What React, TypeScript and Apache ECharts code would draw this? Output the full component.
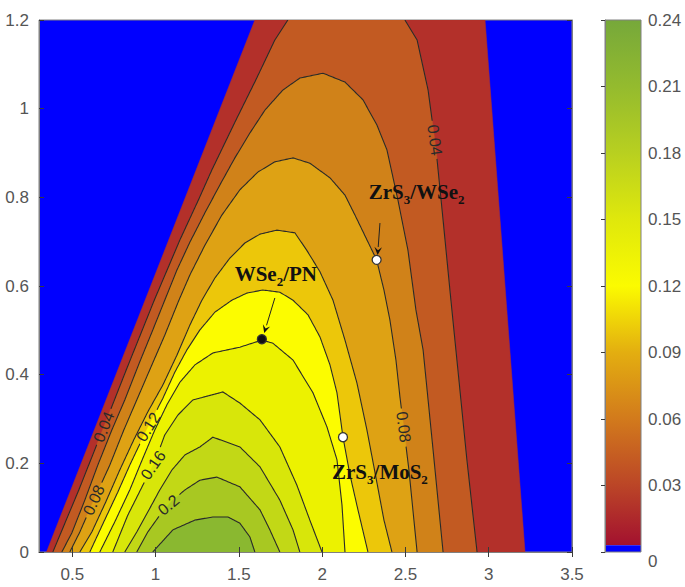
import React, { useEffect, useRef } from "react";
import * as echarts from "echarts";

// ---------- axis / colorbar ticks ----------
const X_TICKS = [0.5, 1, 1.5, 2, 2.5, 3, 3.5];
const X_MIN = 0.3;
const X_MAX = 3.5;
const Y_MIN = 0;
const Y_MAX = 1.2;
const Y_STEP = 0.2;
const CBAR_MIN = 0;
const CBAR_MAX = 0.24;
const CBAR_STEP = 0.03;
const CBAR_ZERO_BAND = 0.003;

// ---------- contour geometry (x, y) ----------
const domainBoundary = [[0.345, 0], [1.596, 1.2], [2.978, 1.2], [3.218, 0]];

const contour04Left = [[0.383, 0], [0.539, 0.14], [0.689, 0.282], [0.824, 0.411], [0.992, 0.568], [1.146, 0.704], [1.257, 0.794], [1.338, 0.862], [1.482, 0.974], [1.602, 1.065], [1.716, 1.155], [1.794, 1.2]];
const contour04Right = [[2.497, 1.2], [2.57, 1.155], [2.636, 1.042], [2.684, 0.907], [2.726, 0.749], [2.767, 0.591], [2.815, 0.411], [2.869, 0.208], [2.93, 0]];
const contour06 = [[0.437, 0], [0.497, 0.043], [0.575, 0.117], [0.653, 0.196], [0.737, 0.275], [0.815, 0.343], [0.905, 0.429], [0.978, 0.496], [1.055, 0.568], [1.128, 0.636], [1.206, 0.699], [1.296, 0.765], [1.386, 0.828], [1.476, 0.889], [1.566, 0.945], [1.657, 0.997], [1.764, 1.042], [1.866, 1.069], [2.005, 1.08], [2.137, 1.06], [2.245, 1.02], [2.329, 0.963], [2.389, 0.907], [2.455, 0.794], [2.515, 0.681], [2.563, 0.546], [2.606, 0.456], [2.666, 0.23], [2.726, 0]];
const contour08 = [[0.485, 0], [0.545, 0.045], [0.629, 0.117], [0.725, 0.196], [0.809, 0.275], [0.887, 0.343], [0.965, 0.411], [1.055, 0.489], [1.14, 0.568], [1.206, 0.625], [1.296, 0.692], [1.398, 0.76], [1.506, 0.817], [1.614, 0.857], [1.716, 0.88], [1.825, 0.889], [1.926, 0.877], [2.047, 0.844], [2.137, 0.805], [2.197, 0.76], [2.269, 0.704], [2.327, 0.659], [2.371, 0.591], [2.407, 0.523], [2.443, 0.433], [2.467, 0.35], [2.521, 0.185], [2.57, 0]];
const contour10 = [[0.545, 0], [0.617, 0.045], [0.701, 0.113], [0.785, 0.185], [0.869, 0.253], [0.953, 0.316], [1.044, 0.377], [1.128, 0.444], [1.206, 0.512], [1.278, 0.568], [1.356, 0.618], [1.446, 0.663], [1.536, 0.697], [1.627, 0.717], [1.728, 0.726], [1.836, 0.72], [1.907, 0.681], [1.987, 0.632], [2.065, 0.568], [2.137, 0.478], [2.209, 0.381], [2.269, 0.275], [2.329, 0.156], [2.371, 0.072], [2.419, 0]];
const contour12 = [[0.605, 0], [0.689, 0.068], [0.773, 0.135], [0.845, 0.196], [0.917, 0.253], [0.977, 0.298], [1.044, 0.347], [1.116, 0.406], [1.188, 0.456], [1.266, 0.501], [1.356, 0.541], [1.458, 0.568], [1.548, 0.584], [1.644, 0.591], [1.746, 0.586], [1.825, 0.568], [1.915, 0.535], [1.987, 0.485], [2.047, 0.422], [2.089, 0.359], [2.125, 0.259], [2.167, 0.174], [2.215, 0.095], [2.275, 0]];
const contour14 = [[0.665, 0], [0.755, 0.068], [0.845, 0.14], [0.924, 0.212], [0.995, 0.275], [1.068, 0.332], [1.146, 0.383], [1.236, 0.422], [1.344, 0.449], [1.506, 0.462], [1.638, 0.478], [1.704, 0.471], [1.825, 0.433], [1.945, 0.359], [2.029, 0.282], [2.089, 0.208], [2.119, 0.106], [2.137, 0]];
const contour16 = [[0.743, 0], [0.833, 0.083], [0.924, 0.151], [0.995, 0.203], [1.055, 0.264], [1.134, 0.309], [1.224, 0.343], [1.404, 0.361], [1.506, 0.336], [1.627, 0.298], [1.746, 0.237], [1.848, 0.151], [1.926, 0.072], [1.999, 0]];
const contour18 = [[0.815, 0], [0.887, 0.045], [0.953, 0.09], [1.025, 0.14], [1.098, 0.185], [1.176, 0.219], [1.266, 0.237], [1.344, 0.259], [1.506, 0.237], [1.627, 0.192], [1.746, 0.117], [1.825, 0.05], [1.866, 0]];
const contour20 = [[0.887, 0], [0.953, 0.045], [1.025, 0.083], [1.098, 0.115], [1.176, 0.14], [1.266, 0.162], [1.368, 0.169], [1.506, 0.147], [1.627, 0.095], [1.686, 0.05], [1.746, 0]];
const contour22 = [[0.983, 0], [1.104, 0.05], [1.236, 0.072], [1.344, 0.079], [1.434, 0.079], [1.506, 0.065], [1.566, 0.034], [1.596, 0]];

// fill colour of each band (lower level of the band)
const BAND_LEVELS = [0.02, 0.04, 0.06, 0.08, 0.1, 0.12, 0.14, 0.16, 0.18, 0.2, 0.22];
const BAND_COLORS = ["#b3302a", "#c25a22", "#d08219", "#dea214", "#ecc70a", "#fcfc00", "#ecf200", "#d8e60a", "#c2d816", "#a8c822", "#8ab830"];

// colormap for the colorbar
const CMAP_VALUES = [0.003, 0.03, 0.06, 0.09, 0.12, 0.15, 0.18, 0.21, 0.24];
const CMAP_COLORS = ["#a3112f", "#bb4527", "#d27a1c", "#e3ae10", "#fbfb00", "#dfe80c", "#b8d020", "#94bb2e", "#76a83a"];

// contour labels (line index refers to CONTOUR_LINES)
const CLABEL_TEXTS = ["0.04", "0.08", "0.12", "0.16", "0.2", "0.04", "0.08"];
const CLABEL_POS = [[0.689, 0.282], [0.629, 0.117], [0.956, 0.282], [0.985, 0.196], [1.077, 0.106], [2.676, 0.929], [2.489, 0.282]];
const CLABEL_ANGLES = [68, 66, 58, 55, 40, -82, -83];
const CLABEL_LINE = [0, 3, 5, 7, 9, 1, 3];

// materials
const MAT_BASE = [["ZrS", "3", "/WSe", "2"], ["WSe", "2", "/PN", ""], ["ZrS", "3", "/MoS", "2"]];
const MAT_POINTS = [[2.327, 0.659], [1.638, 0.48], [2.125, 0.259]];
const MAT_FILLED = [false, true, false];
const MAT_LABEL_POS = [[2.567, 0.812], [1.722, 0.627], [2.347, 0.18]];
const ARROWS = [
  [2.347, 0.742, 2.333, 0.67],
  [1.716, 0.573, 1.652, 0.494],
];

const FILL_REGIONS = [
  domainBoundary,
  contour04Left.concat(contour04Right),
  contour06, contour08, contour10, contour12, contour14, contour16, contour18, contour20, contour22,
];
const CONTOUR_LINES = [contour04Left, contour04Right, contour06, contour08, contour10, contour12, contour14, contour16, contour18, contour20, contour22];

const SANS = "'Liberation Sans', Arial, Helvetica, sans-serif";
const SERIF = "'Liberation Serif', 'Times New Roman', serif";
const AXIS_GRAY = "#808080";
const LABEL_GRAY = "#555555";
const CLABEL_FONT = 16;

function labelRadius(t: string) {
  let w = 0;
  for (const ch of t) w += ch === "." ? 0.278 : 0.556;
  return (w * CLABEL_FONT) / 2 + 3;
}

function buildOption(): any {
  const yfmt = (v: number) => String(+v.toFixed(2));
  const cstops = CMAP_VALUES.map((v, i) => ({
    offset: (v - CMAP_VALUES[0]) / (CMAP_VALUES[CMAP_VALUES.length - 1] - CMAP_VALUES[0]),
    color: CMAP_COLORS[i],
  }));

  const richFor = (parts: string[]) => {
    let s = "";
    for (let i = 0; i < parts.length; i++) {
      if (!parts[i]) continue;
      s += i % 2 === 0 ? `{n|${parts[i]}}` : `{s|${parts[i]}}`;
    }
    return s;
  };

  return {
    animation: false,
    backgroundColor: "#ffffff",
    grid: [
      { left: 39, top: 20, width: 533, height: 532, show: true, backgroundColor: "#0000ff", borderColor: AXIS_GRAY, borderWidth: 1 },
      { left: 605, top: 20, width: 36, height: 532, show: false },
    ],
    xAxis: [
      {
        type: "value", gridIndex: 0, min: X_MIN, max: X_MAX, position: "bottom", z: 10,
        axisLine: { show: true, lineStyle: { color: AXIS_GRAY, width: 1 } },
        axisTick: { show: true, inside: true, length: 5, customValues: X_TICKS, lineStyle: { color: "#3a3a3a" } },
        axisLabel: { customValues: X_TICKS, color: LABEL_GRAY, fontSize: 17, fontFamily: SANS, margin: 14, formatter: (v: number) => String(v) },
        splitLine: { show: false },
      },
      {
        type: "value", gridIndex: 0, min: X_MIN, max: X_MAX, position: "top", z: 10,
        axisLine: { show: true, lineStyle: { color: AXIS_GRAY, width: 1 } },
        axisTick: { show: true, inside: true, length: 5, customValues: X_TICKS, lineStyle: { color: "#3a3a3a" } },
        axisLabel: { show: false, customValues: X_TICKS },
        splitLine: { show: false },
      },
      { type: "value", gridIndex: 1, min: 0, max: 1, show: false },
    ],
    yAxis: [
      {
        type: "value", gridIndex: 0, min: Y_MIN, max: Y_MAX, interval: Y_STEP, position: "left", z: 10,
        axisLine: { show: true, lineStyle: { color: AXIS_GRAY, width: 1 } },
        axisTick: { show: true, inside: true, length: 5, lineStyle: { color: "#3a3a3a" } },
        axisLabel: { color: LABEL_GRAY, fontSize: 17, fontFamily: SANS, margin: 10, formatter: yfmt },
        splitLine: { show: false },
      },
      {
        type: "value", gridIndex: 0, min: Y_MIN, max: Y_MAX, interval: Y_STEP, position: "right", z: 10,
        axisLine: { show: true, lineStyle: { color: AXIS_GRAY, width: 1 } },
        axisTick: { show: true, inside: true, length: 5, lineStyle: { color: "#3a3a3a" } },
        axisLabel: { show: false },
        splitLine: { show: false },
      },
      {
        type: "value", gridIndex: 1, min: CBAR_MIN, max: CBAR_MAX, interval: CBAR_STEP, position: "right", z: 10,
        axisLine: { show: true, lineStyle: { color: AXIS_GRAY, width: 1 } },
        axisTick: { show: true, inside: true, length: 4, lineStyle: { color: "#3a3a3a" } },
        axisLabel: {
          color: LABEL_GRAY, fontSize: 17, fontFamily: SANS, margin: 7,
          formatter: (v: number) => (v === 0 ? "{z|0}" : String(+v.toFixed(2))),
          rich: { z: { color: LABEL_GRAY, fontSize: 17, fontFamily: SANS, padding: [18, 0, 0, 0] } },
        },
        splitLine: { show: false },
      },
    ],
    series: [
      // filled contour bands
      {
        type: "custom", xAxisIndex: 0, yAxisIndex: 0, z: 2, clip: true, silent: true,
        data: FILL_REGIONS.map(() => [1, 0.5]),
        renderItem: (params: any, api: any) => {
          const pts = FILL_REGIONS[params.dataIndex].map((p) => api.coord(p));
          return { type: "polygon", shape: { points: pts }, style: { fill: BAND_COLORS[params.dataIndex], stroke: BAND_COLORS[params.dataIndex], lineWidth: 0.5 } };
        },
      },
      // contour lines (broken where a label sits)
      {
        type: "custom", xAxisIndex: 0, yAxisIndex: 0, z: 3, clip: true, silent: true,
        data: CONTOUR_LINES.map(() => [1, 0.5]),
        renderItem: (params: any, api: any) => {
          const li = params.dataIndex;
          const raw = CONTOUR_LINES[li].map((p) => api.coord(p));
          const dense: number[][] = [];
          for (let k = 0; k < raw.length - 1; k++) {
            const a = raw[k], b = raw[k + 1];
            const d = Math.hypot(b[0] - a[0], b[1] - a[1]);
            const n = Math.max(1, Math.ceil(d / 1.5));
            for (let j = 0; j < n; j++) dense.push([a[0] + ((b[0] - a[0]) * j) / n, a[1] + ((b[1] - a[1]) * j) / n]);
          }
          dense.push(raw[raw.length - 1]);
          const holes: { c: number[]; r: number }[] = [];
          CLABEL_LINE.forEach((l, i) => {
            if (l === li) holes.push({ c: api.coord(CLABEL_POS[i]), r: labelRadius(CLABEL_TEXTS[i]) });
          });
          const segs: number[][][] = [];
          let cur: number[][] = [];
          for (const p of dense) {
            const inside = holes.some((h) => Math.hypot(p[0] - h.c[0], p[1] - h.c[1]) < h.r);
            if (inside) {
              if (cur.length > 1) segs.push(cur);
              cur = [];
            } else cur.push(p);
          }
          if (cur.length > 1) segs.push(cur);
          return {
            type: "group",
            children: segs.map((s) => ({ type: "polyline", shape: { points: s }, style: { stroke: "#2a2a2a", lineWidth: 1.1, fill: "none" } })),
          };
        },
      },
      // contour labels
      {
        type: "custom", xAxisIndex: 0, yAxisIndex: 0, z: 4, silent: true,
        data: CLABEL_TEXTS.map(() => [1, 0.5]),
        renderItem: (params: any, api: any) => {
          const i = params.dataIndex;
          const p = api.coord(CLABEL_POS[i]);
          return {
            type: "text", x: p[0], y: p[1], rotation: (CLABEL_ANGLES[i] * Math.PI) / 180,
            style: { text: CLABEL_TEXTS[i], align: "center", verticalAlign: "middle", fill: "#2a2a2a", fontSize: CLABEL_FONT, fontFamily: SANS },
          };
        },
      },
      // arrows
      {
        type: "custom", xAxisIndex: 0, yAxisIndex: 0, z: 5, silent: true,
        data: ARROWS.map(() => [1, 0.5]),
        renderItem: (params: any, api: any) => {
          const a = ARROWS[params.dataIndex];
          const s = api.coord([a[0], a[1]]);
          const e = api.coord([a[2], a[3]]);
          const dx = e[0] - s[0];
          const dy = e[1] - s[1];
          const L = Math.sqrt(dx * dx + dy * dy);
          const ux = dx / L, uy = dy / L;
          const hl = 8, hw = 3.8;
          const bx = e[0] - ux * hl, by = e[1] - uy * hl;
          return {
            type: "group",
            children: [
              { type: "line", shape: { x1: s[0], y1: s[1], x2: bx, y2: by }, style: { stroke: "#222", lineWidth: 1 } },
              {
                type: "polygon",
                shape: { points: [[e[0], e[1]], [bx - uy * hw, by + ux * hw], [e[0] - ux * hl * 0.6, e[1] - uy * hl * 0.6], [bx + uy * hw, by - ux * hw]] },
                style: { fill: "#111" },
              },
            ],
          };
        },
      },
      // material labels
      {
        type: "custom", xAxisIndex: 0, yAxisIndex: 0, z: 6, silent: true,
        data: MAT_BASE.map(() => [1, 0.5]),
        renderItem: (params: any, api: any) => {
          const i = params.dataIndex;
          const p = api.coord(MAT_LABEL_POS[i]);
          return {
            type: "text", x: p[0], y: p[1],
            style: {
              text: richFor(MAT_BASE[i]), align: "center", verticalAlign: "middle",
              rich: {
                n: { fill: "#111", color: "#111", fontSize: 21, fontWeight: "bold", fontFamily: SERIF, lineHeight: 28, verticalAlign: "middle" },
                s: { fill: "#111", color: "#111", fontSize: 13, fontWeight: "bold", fontFamily: SERIF, lineHeight: 14, verticalAlign: "bottom" },
              },
            },
          };
        },
      },
      // material points
      {
        type: "scatter", xAxisIndex: 0, yAxisIndex: 0, z: 7, silent: true,
        symbol: "circle", symbolSize: 9,
        data: MAT_POINTS.map((p, i) => ({
          value: p,
          itemStyle: { color: MAT_FILLED[i] ? "#111111" : "#ffffff", borderColor: "#333333", borderWidth: 1.3, opacity: 1 },
        })),
      },
      // colorbar
      {
        type: "custom", xAxisIndex: 2, yAxisIndex: 2, z: 2, silent: true,
        data: [[0.5, 0.1]],
        renderItem: (_params: any, api: any) => {
          const b0 = api.coord([0, CBAR_MIN]);
          const bz = api.coord([1, CBAR_ZERO_BAND]);
          const top = api.coord([1, CBAR_MAX]);
          return {
            type: "group",
            children: [
              { type: "rect", shape: { x: b0[0], y: top[1], width: bz[0] - b0[0], height: bz[1] - top[1] }, style: { fill: new echarts.graphic.LinearGradient(0, 1, 0, 0, cstops) } },
              { type: "rect", shape: { x: b0[0], y: bz[1], width: bz[0] - b0[0], height: b0[1] - bz[1] }, style: { fill: "#0000ff" } },
              { type: "rect", shape: { x: b0[0], y: top[1], width: bz[0] - b0[0], height: b0[1] - top[1] }, style: { fill: "none", stroke: AXIS_GRAY, lineWidth: 1 } },
            ],
          };
        },
      },
    ],
  };
}

export default function App() {
  const ref = useRef<HTMLDivElement>(null);
  useEffect(() => {
    if (!ref.current) return;
    const chart = echarts.init(ref.current, undefined, { renderer: "svg" });
    chart.setOption(buildOption());
    return () => chart.dispose();
  }, []);
  return (
    <div
      ref={ref}
      style={{ position: "absolute", left: 0, top: 0, width: 685, height: 587, background: "#ffffff" }}
    />
  );
}
